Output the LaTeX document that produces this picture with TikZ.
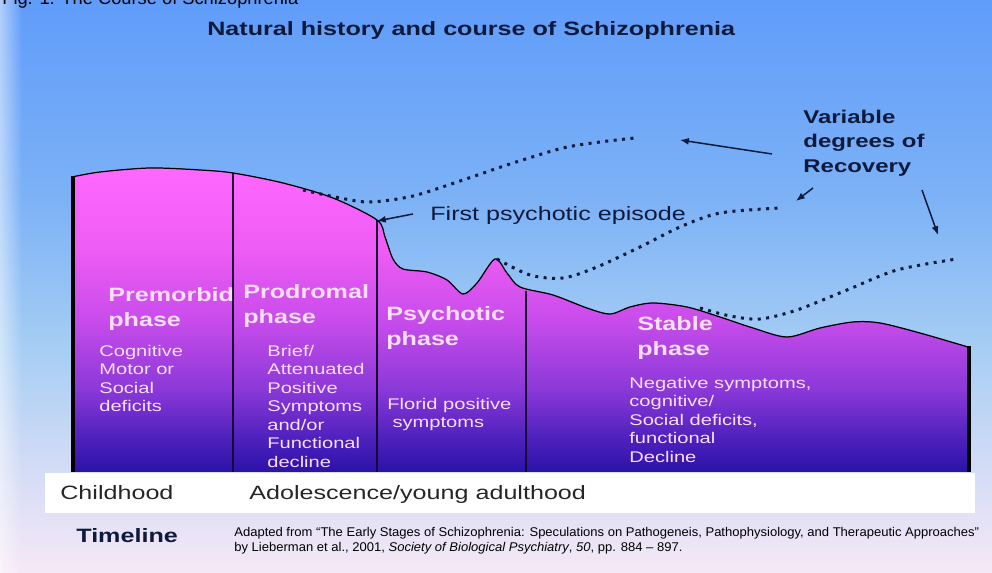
\documentclass[tikz,border=0pt]{standalone}
\usepackage{fontspec}
\setmainfont{Liberation Sans}[FakeStretch=1.3]
\newfontfamily\citefont{Liberation Sans}[FakeStretch=1.03]
\newfontfamily\capfont{Liberation Sans}
\usepackage{tikz}
\usetikzlibrary{positioning,arrows.meta,fadings}
\definecolor{sky0}{RGB}{96,156,250}
\definecolor{sky1}{RGB}{125,178,246}
\definecolor{sky2}{RGB}{165,205,244}
\definecolor{sky3}{RGB}{212,220,246}
\definecolor{sky4}{RGB}{246,232,246}
\definecolor{mag0}{RGB}{255,104,255}
\definecolor{mag1}{RGB}{238,92,244}
\definecolor{mag2}{RGB}{200,76,235}
\definecolor{mag3}{RGB}{138,56,216}
\definecolor{mag4}{RGB}{76,32,188}
\definecolor{mag5}{RGB}{44,18,168}
\definecolor{ink}{RGB}{14,26,60}
\definecolor{paleink}{RGB}{250,222,250}
\definecolor{rule}{RGB}{22,10,48}
\pgfdeclareverticalshading{skyfade}{100bp}{color(0bp)=(sky4); color(25bp)=(sky4); color(34bp)=(sky3); color(44.9bp)=(sky2); color(57.5bp)=(sky1); color(75bp)=(sky0); color(100bp)=(sky0)}
\pgfdeclareverticalshading{phasefade}{100bp}{color(0bp)=(mag5); color(25bp)=(mag5); color(30.3bp)=(mag4); color(38.5bp)=(mag3); color(50bp)=(mag2); color(61.5bp)=(mag1); color(75bp)=(mag0); color(100bp)=(mag0)}

\begin{document}
\begin{tikzpicture}[
  x=0.02cm,y=-0.02cm,
  phasetitle/.style={anchor=north west,inner sep=0pt,align=left,text=paleink,font=\fontsize{11}{14.2}\selectfont\bfseries},
  phasebody/.style={anchor=north west,inner sep=0pt,align=left,text=paleink,font=\fontsize{8.8}{10.5}\selectfont},
  lbl/.style={anchor=base west,inner sep=0pt,text=ink,font=\fontsize{11}{13}\selectfont},
  arr/.style={-{Latex[length=5pt,width=4pt]},line width=0.85pt,draw=ink},
  dots/.style={line width=1.7pt,draw=ink,dash pattern=on 1.7pt off 3.1pt},
  sep/.style={line width=1.2pt,draw=rule},
  edge/.style={line width=2.4pt,draw=black}]
  \useasboundingbox (0,0) rectangle (992,573);
  \clip (0,0) rectangle (992,573);
  \fill[shading=skyfade] (0,0) rectangle (992,573);
  \fill[white,opacity=0.5,path fading=east] (0,0) rectangle (22,573);
  \node[anchor=base west,inner sep=0pt,font=\capfont\fontsize{10.4}{13}\selectfont] (figcap) at (2,5) {Fig. 1: The Course of Schizophrenia};
  \node[lbl,font=\fontsize{11}{13}\selectfont\bfseries] (title) at (207,36) {Natural history and course of Schizophrenia};

  % course of illness
  \fill[shading=phasefade] (72,472) -- plot[smooth] coordinates {(72,177) (100,172) (150,168) (200,170) (233,173) (283,183) (333,198) (377,220) (385,237) (393,259) (403,269) (427,272) (447,280) (463,294) (477,283) (495,259) (507,273) (520,287) (553,295) (587,308) (610,314) (630,307) (653,303) (687,307) (720,317) (753,328) (787,337) (820,328) (853,322) (880,323) (920,333) (968,347)} -- (970,472) -- cycle;
  \draw[line width=0.7pt] plot[smooth] coordinates {(72,177) (100,172) (150,168) (200,170) (233,173) (283,183) (333,198) (377,220) (385,237) (393,259) (403,269) (427,272) (447,280) (463,294) (477,283) (495,259) (507,273) (520,287) (553,295) (587,308) (610,314) (630,307) (653,303) (687,307) (720,317) (753,328) (787,337) (820,328) (853,322) (880,323) (920,333) (968,347)};
  \draw[edge] (73,176) -- (73,472);
  \draw[edge] (969,346) -- (969,472);
  \draw[sep] (233,173) -- (233,472);
  \draw[sep] (377,220) -- (377,472);
  \draw[sep] (526,291) -- (526,472);

  \coordinate (onset) at (377,221);
  \coordinate (onsettail) at (413,214);
  \coordinate (rec1) at (772,154);
  \coordinate (rec1tip) at (680,140);
  \coordinate (rec2) at (813,188);
  \coordinate (rec2tip) at (796,201);
  \coordinate (rec3) at (922,190);
  \coordinate (rec3tip) at (938,235);

  % recovery courses
  \draw[dots] plot[smooth] coordinates {(303,190) (340,198) (370,202) (413,196) (463,180) (513,163) (563,148) (600,142) (635,138)};
  \draw[dots] plot[smooth] coordinates {(497,259) (530,275) (563,278) (597,267) (640,247) (680,227) (720,213) (780,208)};
  \draw[dots] plot[smooth] coordinates {(700,308) (730,316) (760,319) (797,310) (847,290) (897,270) (957,259)};

  \node[phasetitle] (premtitle) at (108,287) {Premorbid\\phase};
  \node[phasebody] (prembody) at (99,345) {Cognitive\\Motor or\\Social\\deficits};
  \node[phasetitle] (prodtitle) at (243,284) {Prodromal\\phase};
  \node[phasebody] (prodbody) at (267,345) {Brief/\\Attenuated\\Positive\\Symptoms\\and/or\\Functional\\decline};
  \node[phasetitle] (psytitle) at (386,306) {Psychotic\\phase};
  \node[phasebody] (psybody) at (387,398) {Florid positive\\\hspace{3pt}symptoms};
  \node[phasetitle] (stabtitle) at (637,316) {Stable\\phase};
  \node[phasebody] (stabbody) at (629,377) {Negative symptoms,\\cognitive/\\Social deficits,\\functional\\Decline};

  \node[lbl] (episode) at (430,221) {First psychotic episode};
  \node[anchor=north west,inner sep=0pt,align=left,text=ink,font=\fontsize{10.5}{13.8}\selectfont\bfseries] (recovery) at (803,110) {Variable\\degrees of\\Recovery};

  \draw[arr] (onsettail) -- (onset);
  \draw[arr] (rec1) -- (rec1tip);
  \draw[arr] (rec2) -- (rec2tip);
  \draw[arr] (rec3) -- (rec3tip);

  % timeline
  \fill[white] (45,473) rectangle (975,513);
  \node[lbl,text=black!85] (child) at (60,500) {Childhood};
  \node[lbl,text=black!85] (adol) at (249,500) {Adolescence/young adulthood};
  \node[lbl,font=\fontsize{11}{13}\selectfont\bfseries] (timeline) at (76,543) {Timeline};
  \node[anchor=north west,inner sep=0pt,align=left,text=black,font=\citefont\fontsize{7.2}{8.5}\selectfont] (source) at (234,527) {Adapted from “The Early Stages of Schizophrenia: Speculations on Pathogeneis, Pathophysiology, and Therapeutic Approaches”\\by Lieberman et al., 2001, \textit{Society of Biological Psychiatry}, \textit{50}, pp. 884 – 897.};
\end{tikzpicture}
\end{document}
